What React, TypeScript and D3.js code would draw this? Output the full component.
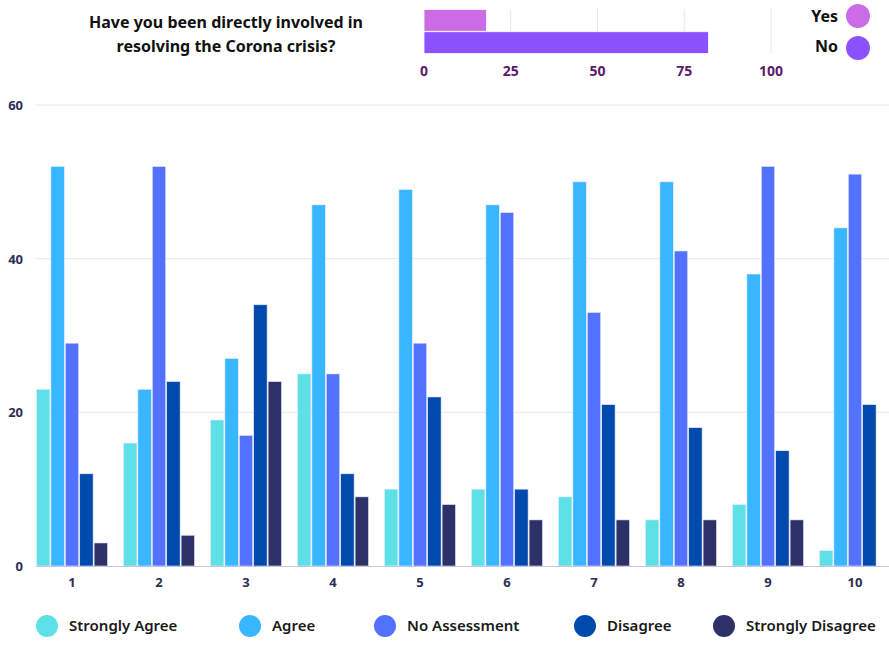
import React from "react";
import * as d3 from "d3";

const categories = ["1", "2", "3", "4", "5", "6", "7", "8", "9", "10"];
const seriesNames = ["Strongly Agree", "Agree", "No Assessment", "Disagree", "Strongly Disagree"];
const stronglyAgree = [23, 16, 19, 25, 10, 10, 9, 6, 8, 2];
const agree = [52, 23, 27, 47, 49, 47, 50, 50, 38, 44];
const noAssessment = [29, 52, 17, 25, 29, 46, 33, 41, 52, 51];
const disagree = [12, 24, 34, 12, 22, 10, 21, 18, 15, 21];
const stronglyDisagree = [3, 4, 24, 9, 8, 6, 6, 6, 6, 0];
const yTicks = [0, 20, 40, 60];

const seriesColors = ["#5ee1e6", "#38b6ff", "#5271ff", "#004aad", "#2e3168"];

const involvedLabels = ["Yes", "No"];
const involvedValues = [18, 82];
const involvedColors = ["#cb6ce6", "#8c52ff"];
const involvedTicks = [0, 25, 50, 75, 100];

const title = ["Have you been directly involved in", "resolving the Corona crisis?"];

const FONT = "'Noto Sans', 'Open Sans', sans-serif";

export default function App() {
  const W = 889;
  const H = 647;
  const series = [stronglyAgree, agree, noAssessment, disagree, stronglyDisagree];

  const x0 = d3.scaleBand<string>().domain(categories).range([36, 891]).paddingInner(0.172).paddingOuter(0);
  const x1 = d3.scaleBand<string>().domain(seriesNames).range([0, x0.bandwidth()]).padding(0);
  const y = d3.scaleLinear().domain([0, 60]).range([566, 105]);

  const mx = d3.scaleLinear().domain([0, 100]).range([424, 771]);
  const my = d3.scaleBand<string>().domain(involvedLabels).range([9, 54]).padding(0.02);

  const legendX = [47, 250, 385, 585, 724];

  return (
    <svg width={W} height={H} style={{ position: "absolute", left: 0, top: 0, background: "#fff" }} fontFamily={FONT}>
      {/* Title */}
      <text x={226} y={28} textAnchor="middle" fontSize={16} fontWeight={700} fill="#111">{title[0]}</text>
      <text x={226} y={52} textAnchor="middle" fontSize={16} fontWeight={700} fill="#111">{title[1]}</text>

      {/* Mini chart gridlines */}
      {involvedTicks.slice(1).map((t) => (
        <line key={t} x1={mx(t)} x2={mx(t)} y1={9} y2={54} stroke="#e8e6ee" strokeWidth={1} />
      ))}
      {involvedLabels.map((l, i) => (
        <rect key={l} x={mx(0)} y={my(l)} width={mx(involvedValues[i]) - mx(0)} height={my.bandwidth()}
          fill={involvedColors[i]} stroke="#fff" strokeWidth={0.8} />
      ))}
      {involvedTicks.map((t) => (
        <text key={t} x={mx(t)} y={76} textAnchor="middle" fontSize={14} fontWeight={700} fill="#5a1a6b">{t}</text>
      ))}
      {involvedLabels.map((l, i) => (
        <g key={l}>
          <text x={838} y={i === 0 ? 22 : 52} textAnchor="end" fontSize={16} fontWeight={700} fill="#111">{l}</text>
          <circle cx={858} cy={i === 0 ? 16 : 48} r={12} fill={involvedColors[i]} />
        </g>
      ))}

      {/* Main gridlines */}
      {yTicks.map((t) => (
        <g key={t}>
          {t > 0 && <line x1={36} x2={889} y1={y(t)} y2={y(t)} stroke="#e6e6ee" strokeWidth={1} />}
          <text x={23} y={y(t) + 5} textAnchor="end" fontSize={13} fontWeight={700} fill="#2b2d55">{t}</text>
        </g>
      ))}

      {/* Bars */}
      {categories.map((c, ci) => (
        <g key={c} transform={`translate(${x0(c)},0)`}>
          {series.map((s, si) => (
            s[ci] > 0 ? (
              <rect key={si} x={x1(seriesNames[si])! + 0.5} y={y(s[ci])} width={x1.bandwidth() - 1}
                height={y(0) - y(s[ci])} fill={seriesColors[si]} stroke="#e8eaff" strokeWidth={0.6} />
            ) : null
          ))}
        </g>
      ))}

      {/* X axis */}
      <line x1={36} x2={889} y1={566.5} y2={566.5} stroke="#c4c6dc" strokeWidth={1.2} />
      {categories.map((c) => (
        <text key={c} x={x0(c)! + x0.bandwidth() / 2} y={587} textAnchor="middle" fontSize={13} fontWeight={700} fill="#2b2d55">{c}</text>
      ))}

      {/* Legend */}
      {seriesNames.map((n, i) => (
        <g key={n}>
          <circle cx={legendX[i]} cy={626} r={11} fill={seriesColors[i]} />
          <text x={legendX[i] + 22} y={631} fontSize={15} fontWeight={600} fill="#1a1a1a">{n}</text>
        </g>
      ))}
    </svg>
  );
}
